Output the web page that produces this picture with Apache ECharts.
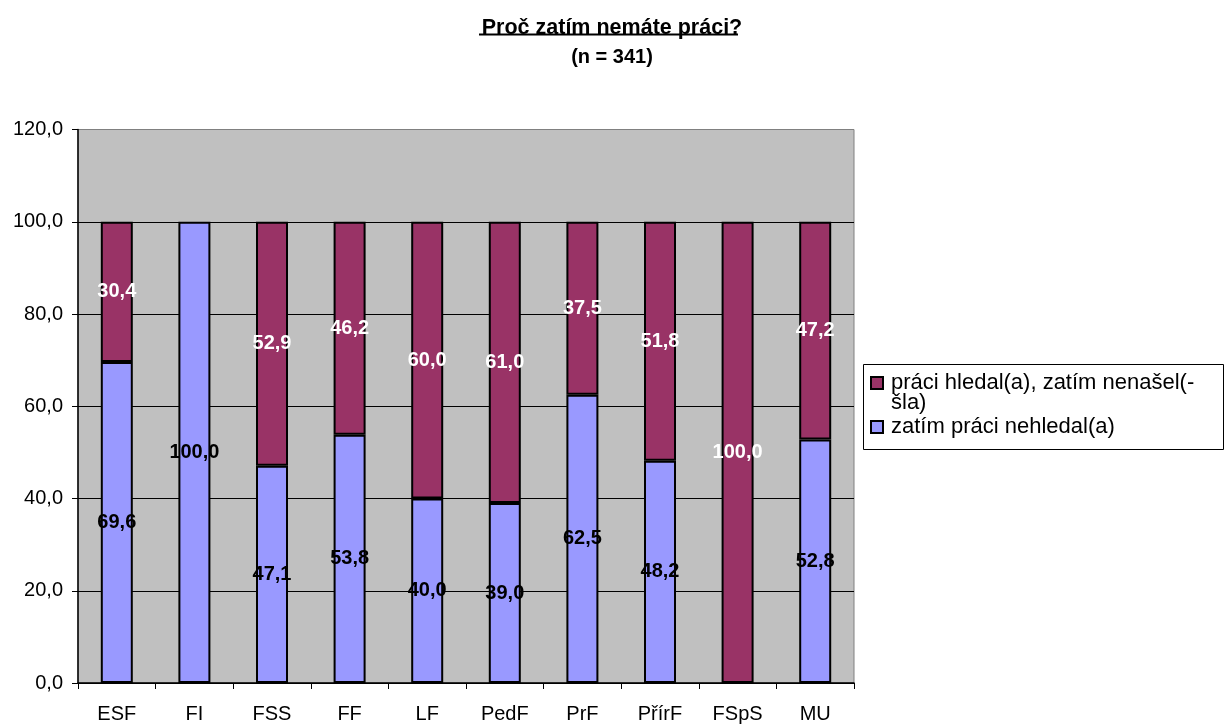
<!DOCTYPE html>
<html>
<head>
<meta charset="utf-8">
<script src="https://cdn.jsdelivr.net/npm/echarts@6/dist/echarts.min.js"></script>
<style>
html,body{margin:0;padding:0;background:#fff;}
#chart{width:1227px;height:724px;}
</style>
</head>
<body>
<div id="chart"></div>
<script>
var categories = ['ESF', 'FI', 'FSS', 'FF', 'LF', 'PedF', 'PrF', 'PřírF', 'FSpS', 'MU'];
var nehledal = [69.6, 100.0, 47.1, 53.8, 40.0, 39.0, 62.5, 48.2, 0, 52.8];
var hledal = [30.4, 0, 52.9, 46.2, 60.0, 61.0, 37.5, 51.8, 100.0, 47.2];
var seriesNames = ['zatím práci nehledal(a)', 'práci hledal(a), zatím nenašel(-šla)'];
var titleText = 'Proč zatím nemáte práci?';
var subTitleText = '(n = 341)';

var FONT = '"Liberation Sans", Arial, sans-serif';
function fmt(v) { return Number(v).toFixed(1).replace('.', ','); }
function noZero(arr) { return arr.map(function (v) { return v === 0 ? '-' : v; }); }

var chart = echarts.init(document.getElementById('chart'), null, {renderer: 'canvas'});
chart.setOption({
  animation: false,
  backgroundColor: '#ffffff',
  title: [
    {text: titleText, left: 607, top: 12, textAlign: 'center',
     textStyle: {fontFamily: FONT, fontSize: 21.5, fontWeight: 'bold', color: '#000'}},
    {text: subTitleText, left: 607, top: 42, textAlign: 'center',
     textStyle: {fontFamily: FONT, fontSize: 20, fontWeight: 'bold', color: '#000'}}
  ],
  graphic: [
    {type: 'line', shape: {x1: 479, y1: 34.5, x2: 738, y2: 34.5},
     style: {stroke: '#000', lineWidth: 2}, silent: true},
    {type: 'rect', shape: {x: 863.5, y: 364.5, width: 360, height: 85},
     style: {fill: '#ffffff', stroke: '#000', lineWidth: 1}, silent: true, z: -1}
  ],
  legend: {
    orient: 'vertical',
    left: 870,
    top: 352,
    padding: 0,
    itemGap: 2,
    itemWidth: 12,
    itemHeight: 12,
    icon: 'rect',
    data: [
      {name: seriesNames[1], itemStyle: {color: '#993366', borderColor: '#000', borderWidth: 2}},
      {name: seriesNames[0], itemStyle: {color: '#9999FF', borderColor: '#000', borderWidth: 2}}
    ],
    formatter: function (name) {
      return name === seriesNames[1] ? '\npráci hledal(a), zatím nenašel(-\nšla)' : name;
    },
    textStyle: {fontFamily: FONT, fontSize: 22, color: '#000', lineHeight: 20, padding: [0, 0, 0, 3]}
  },
  grid: {
    left: 78, right: 373, top: 129.5, bottom: 40,
    show: true, backgroundColor: '#C0C0C0', borderColor: '#808080', borderWidth: 1,
    containLabel: false
  },
  xAxis: {
    type: 'category',
    data: categories,
    axisLine: {lineStyle: {color: '#000', width: 1.5}},
    axisTick: {show: true, length: 6, lineStyle: {color: '#000'}},
    axisLabel: {fontFamily: FONT, fontSize: 20, color: '#000', margin: 21}
  },
  yAxis: {
    type: 'value',
    min: 0, max: 120, interval: 20,
    axisLine: {show: true, lineStyle: {color: '#000', width: 1.5}},
    axisTick: {show: true, length: 6, lineStyle: {color: '#000'}},
    axisLabel: {fontFamily: FONT, fontSize: 20, color: '#000', margin: 15, formatter: fmt},
    splitLine: {show: true, lineStyle: {color: ['#000', '#000', '#000', '#000', '#000', '#000', '#808080'], width: 1}}
  },
  series: [
    {
      name: seriesNames[0], type: 'bar', stack: 'total', barWidth: 32,
      data: noZero(nehledal),
      itemStyle: {color: '#9999FF', borderColor: '#000', borderWidth: 2},
      label: {show: true, position: 'inside', fontFamily: FONT, fontSize: 20, fontWeight: 'bold', color: '#000',
        formatter: function (p) { return p.value ? fmt(p.value) : ''; }}
    },
    {
      name: seriesNames[1], type: 'bar', stack: 'total', barWidth: 32,
      data: noZero(hledal),
      itemStyle: {color: '#993366', borderColor: '#000', borderWidth: 2},
      label: {show: true, position: 'inside', fontFamily: FONT, fontSize: 20, fontWeight: 'bold', color: '#fff',
        formatter: function (p) { return p.value ? fmt(p.value) : ''; }}
    }
  ]
});
</script>
</body>
</html>
